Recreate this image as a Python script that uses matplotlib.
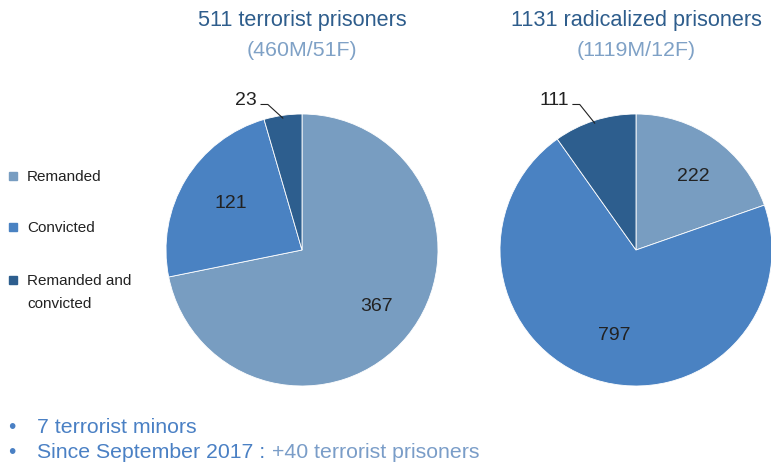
import numpy as np
import matplotlib.pyplot as plt
from matplotlib.patches import Rectangle

plt.rcParams["font.family"] = ["Liberation Sans", "DejaVu Sans"]

# data
categories = ["Remanded", "Convicted", "Remanded and\nconvicted"]
terrorist_values = [367, 121, 23]
radicalized_values = [222, 797, 111]
pie_titles = ["511 terrorist prisoners", "1131 radicalized prisoners"]
pie_subtitles = ["(460M/51F)", "(1119M/12F)"]
bullet_main = ["7 terrorist minors", "Since September 2017 :"]
bullet_extra = ["", "+40 terrorist prisoners"]

colors = ["#789dc1", "#4a82c2", "#2d5e8e"]
title_color = "#2e5d8c"
subtitle_color = "#7fa1c6"
bullet_color = "#4a80c4"
bullet_light = "#7a9dc8"
text_dark = "#222222"

W, H = 771, 465
fig = plt.figure(figsize=(W / 100, H / 100), dpi=100)


def fx(x):
    return x / W


def fy(y):
    return 1 - y / H


def draw_pie(cx, cy, r, values, title, subtitle):
    ax = fig.add_axes([fx(cx - r), fy(cy + r), 2 * r / W, 2 * r / H])
    wedges, _ = ax.pie(values, colors=colors, startangle=90, counterclock=False,
                       radius=1, wedgeprops=dict(edgecolor="white", linewidth=0.6))
    ax.set_xlim(-1, 1)
    ax.set_ylim(-1, 1)
    ax.set_axis_off()

    total = float(sum(values))
    for w, v in zip(wedges, values):
        mid = np.deg2rad((w.theta1 + w.theta2) / 2)
        if v / total > 0.12:
            ax.text(0.66 * np.cos(mid) + 0.04, 0.66 * np.sin(mid), str(v),
                    ha="center", va="center", fontsize=14, color=text_dark)
        else:
            # small slice: label outside with a leader line
            ex, ey = np.cos(mid), np.sin(mid)
            elbow_x, elbow_y = ex - 0.11, 1.07
            ax.plot([ex, elbow_x, elbow_x - 0.05], [ey - 0.02, elbow_y, elbow_y],
                    color=text_dark, lw=0.8, clip_on=False)
            ax.text(elbow_x - 0.08, 1.10, str(v), ha="right", va="center",
                    fontsize=14, color=text_dark)

    fig.text(fx(cx), fy(26), title, ha="center", va="baseline", fontsize=15.6,
             color=title_color)
    fig.text(fx(cx), fy(56), subtitle, ha="center", va="baseline", fontsize=15.4,
             color=subtitle_color)
    return ax


ax1 = draw_pie(302, 250, 136, terrorist_values, pie_titles[0], pie_subtitles[0])
ax2 = draw_pie(636, 250, 136, radicalized_values, pie_titles[1], pie_subtitles[1])

# legend, drawn by hand so the swatch sits on the first line
legend_baselines = [181, 232, 285]
for lab, col, base in zip(categories, colors, legend_baselines):
    fig.patches.append(Rectangle((fx(9), fy(base - 1)), 8 / W, 8 / H, color=col,
                                 transform=fig.transFigure))
    for i, line in enumerate(lab.split("\n")):
        fig.text(fx(27), fy(base + i * 23), line, ha="left", va="baseline",
                 fontsize=11, color=text_dark)

# bullet notes
bullet_baselines = [433, 458]
for main, extra, base in zip(bullet_main, bullet_extra, bullet_baselines):
    fig.text(fx(12), fy(base), "\u2022", ha="center", va="baseline", fontsize=15,
             color=bullet_color)
    t = fig.text(fx(37), fy(base), main, ha="left", va="baseline", fontsize=15.3,
                 color=bullet_color)
    if extra:
        ax2.annotate(extra, xy=(1, 0), xycoords=t, xytext=(5, 0),
                     textcoords="offset points", ha="left", va="bottom",
                     fontsize=15.3, color=bullet_light, annotation_clip=False)

fig.savefig("out.png", dpi=100)
